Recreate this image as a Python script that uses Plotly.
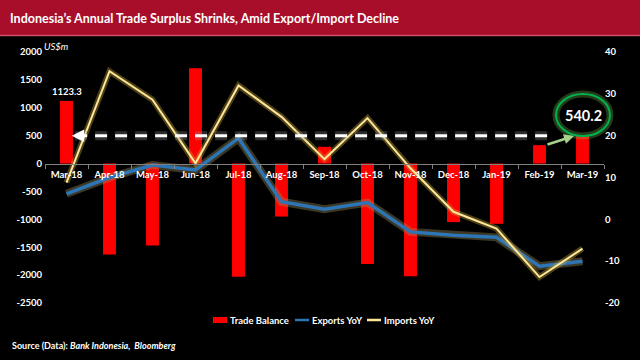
import plotly.graph_objects as go

# ---------------- data ----------------
months = ["Mar-18", "Apr-18", "May-18", "Jun-18", "Jul-18", "Aug-18", "Sep-18",
          "Oct-18", "Nov-18", "Dec-18", "Jan-19", "Feb-19", "Mar-19"]
trade_balance = [1123.3, -1630, -1470, 1710, -2030, -950, 300,
                 -1800, -2020, -1050, -1080, 330, 540.2]
exports_yoy = [6.1, 10.0, 13.0, 11.8, 19.4, 4.2, 2.4, 4.0, -3.0, -3.8, -4.3, -11.2, -10.0]
imports_yoy = [8.8, 35.4, 28.6, 13.4, 32.0, 24.5, 14.4, 24.2, 12.2, 1.8, -2.2, -13.8, -7.0]

series_names = ["Trade Balance", "Exports YoY", "Imports YoY"]
series_colors = ["#FF0000", "#2E75B6", "#FFE699"]

left_ticks = [2000, 1500, 1000, 500, 0, -500, -1000, -1500, -2000, -2500]
right_ticks = [40, 30, 20, 10, 0, -10, -20]
left_range = [-2500, 2000]
right_range = [-20, 40]
ref_level = 500  # dashed reference line (US$m)

# ---------------- layout geometry ----------------
W, H = 640, 360
ML, MR, MT, MB = 45, 36, 52, 57
PW, PH = W - ML - MR, H - MT - MB


def px_x(p):
    return (p - ML) / PW


def px_y(p):
    return (H - MB - p) / PH


FONT = "Lato, Roboto, Arial, sans-serif"
WHITE = "#FFFFFF"

fig = go.Figure()

fig.add_trace(go.Bar(
    x=months, y=trade_balance, name=series_names[0],
    marker=dict(color=series_colors[0], line=dict(width=0)), width=0.3,
    yaxis="y",
))

# glow layers + lines
fig.add_trace(go.Scatter(x=months, y=exports_yoy, mode="lines", yaxis="y2",
                         line=dict(color="rgba(150,140,90,0.4)", width=8),
                         showlegend=False, hoverinfo="skip"))
fig.add_trace(go.Scatter(x=months, y=exports_yoy, mode="lines", yaxis="y2",
                         name=series_names[1],
                         line=dict(color=series_colors[1], width=3.5)))
fig.add_trace(go.Scatter(x=months, y=imports_yoy, mode="lines", yaxis="y2",
                         line=dict(color="rgba(190,160,60,0.4)", width=6),
                         showlegend=False, hoverinfo="skip"))
fig.add_trace(go.Scatter(x=months, y=imports_yoy, mode="lines", yaxis="y2",
                         name=series_names[2],
                         line=dict(color=series_colors[2], width=2)))

zero_pos = (0 - left_range[0]) / (left_range[1] - left_range[0])
tickfont = dict(family=FONT, size=9.5, color=WHITE, weight="bold")

fig.update_layout(
    width=W, height=H,
    margin=dict(l=ML, r=MR, t=MT, b=MB, pad=0),
    paper_bgcolor="#000000", plot_bgcolor="#000000",
    font=dict(family=FONT, color=WHITE, size=10),
    title=dict(text="Indonesia\u2019s Annual Trade Surplus Shrinks, Amid Export/Import Decline",
               x=10 / W, xref="container", xanchor="left",
               y=1 - 19 / H, yref="container", yanchor="middle",
               font=dict(family=FONT, size=12.5, color=WHITE, weight="bold")),
    xaxis=dict(type="category", anchor="free", position=zero_pos,
               showline=True, linecolor="#808080", linewidth=1,
               ticks="outside", tickson="boundaries", ticklen=4, tickcolor="#808080",
               tickangle=0, tickfont=tickfont, ticklabelstandoff=2,
               showgrid=False, zeroline=False, range=[-0.5, len(months) - 0.5]),
    yaxis=dict(range=left_range, tickvals=left_ticks,
               ticktext=[str(v) for v in left_ticks],
               showgrid=False, zeroline=False, showline=False,
               tickfont=tickfont, ticks="", ticklabelstandoff=2),
    yaxis2=dict(range=right_range, tickvals=right_ticks,
                ticktext=[str(v) for v in right_ticks],
                overlaying="y", side="right", showgrid=False, zeroline=False,
                showline=False, tickfont=tickfont, ticks=""),
    showlegend=False,
)

shapes = []
# title banner
shapes.append(dict(type="rect", xref="paper", yref="paper", layer="below",
                   x0=px_x(0), x1=px_x(W), y0=px_y(36), y1=px_y(0),
                   fillcolor="#A80E2A", line=dict(width=0)))
shapes.append(dict(type="line", xref="paper", yref="paper", layer="below",
                   x0=px_x(0), x1=px_x(W), y0=px_y(35.5), y1=px_y(35.5),
                   line=dict(color="#D0506A", width=1.5)))
# dashed reference line with glow
shapes.append(dict(type="line", xref="x", yref="y", x0=0.2, x1=11.29,
                   y0=ref_level, y1=ref_level,
                   line=dict(color="rgba(150,150,150,0.3)", width=9, dash="12px,8px")))
shapes.append(dict(type="line", xref="x", yref="y", x0=0.2, x1=11.29,
                   y0=ref_level, y1=ref_level,
                   line=dict(color=WHITE, width=3, dash="12px,8px")))
# ellipse callout (glow + ring)
shapes.append(dict(type="circle", xref="paper", yref="paper",
                   x0=px_x(556), x1=px_x(610), y0=px_y(136), y1=px_y(94),
                   line=dict(color="rgba(120,200,80,0.3)", width=7),
                   fillcolor="#000000"))
shapes.append(dict(type="circle", xref="paper", yref="paper",
                   x0=px_x(556), x1=px_x(610), y0=px_y(136), y1=px_y(94),
                   line=dict(color="#00B050", width=2)))

# custom compact legend (symbol + label), matching the reference layout
legend_y = 320
legend_starts = [213, 295, 367]
annotations = []
for i, (name, col, x0) in enumerate(zip(series_names, series_colors, legend_starts)):
    if i == 0:
        shapes.append(dict(type="rect", xref="paper", yref="paper",
                           x0=px_x(x0), x1=px_x(x0 + 14),
                           y0=px_y(legend_y + 3), y1=px_y(legend_y - 3),
                           fillcolor=col, line=dict(width=0)))
    else:
        shapes.append(dict(type="line", xref="paper", yref="paper",
                           x0=px_x(x0), x1=px_x(x0 + 14),
                           y0=px_y(legend_y), y1=px_y(legend_y),
                           line=dict(color=col, width=2.5)))
    annotations.append(dict(text=f"<b>{name}</b>", xref="paper", yref="paper",
                            x=px_x(x0 + 15), y=px_y(legend_y), xanchor="left",
                            yanchor="middle", showarrow=False,
                            font=dict(family=FONT, size=9.5, color=WHITE)))
fig.update_layout(shapes=shapes)

annotations += [
    dict(text="<i>US$m</i>", xref="paper", yref="paper", x=px_x(42), y=px_y(46),
         xanchor="left", yanchor="middle", showarrow=False,
         font=dict(family=FONT, size=9.5, color=WHITE)),
    dict(text=f"<b>{trade_balance[0]:.1f}</b>", xref="x", yref="y", x=0, y=trade_balance[0],
         xanchor="center", yanchor="bottom", yshift=2, showarrow=False,
         font=dict(family=FONT, size=9.5, color=WHITE)),
    dict(text=f"<b>{trade_balance[-1]:.1f}</b>", xref="paper", yref="paper",
         x=px_x(583), y=px_y(115), xanchor="center", yanchor="middle",
         showarrow=False, font=dict(family=FONT, size=14.5, color=WHITE)),
    # green pointer from Feb-19 bar to callout
    dict(text="", xref="paper", yref="paper", x=px_x(574), y=px_y(136),
         ax=-28, ay=9, axref="pixel", ayref="pixel", showarrow=True,
         arrowhead=2, arrowsize=0.8, arrowwidth=2.5, arrowcolor="#A9D18E"),
    # arrow head at left end of dashed line
    dict(text="", xref="x", yref="y", x=0.12, y=ref_level, ax=10, ay=0,
         showarrow=True, arrowhead=2, arrowsize=1, arrowwidth=2.5, arrowcolor=WHITE),
    dict(text="<b>Source (Data): <i>Bank Indonesia,  Bloomberg</i></b>",
         xref="paper", yref="paper", x=px_x(10), y=px_y(345),
         xanchor="left", yanchor="middle", showarrow=False,
         font=dict(family=FONT, size=9, color=WHITE)),
]
fig.update_layout(annotations=annotations)

fig.write_html("out.html", config={"displayModeBar": False},
               post_script="document.body.style.margin='0';document.body.style.padding='0';")
